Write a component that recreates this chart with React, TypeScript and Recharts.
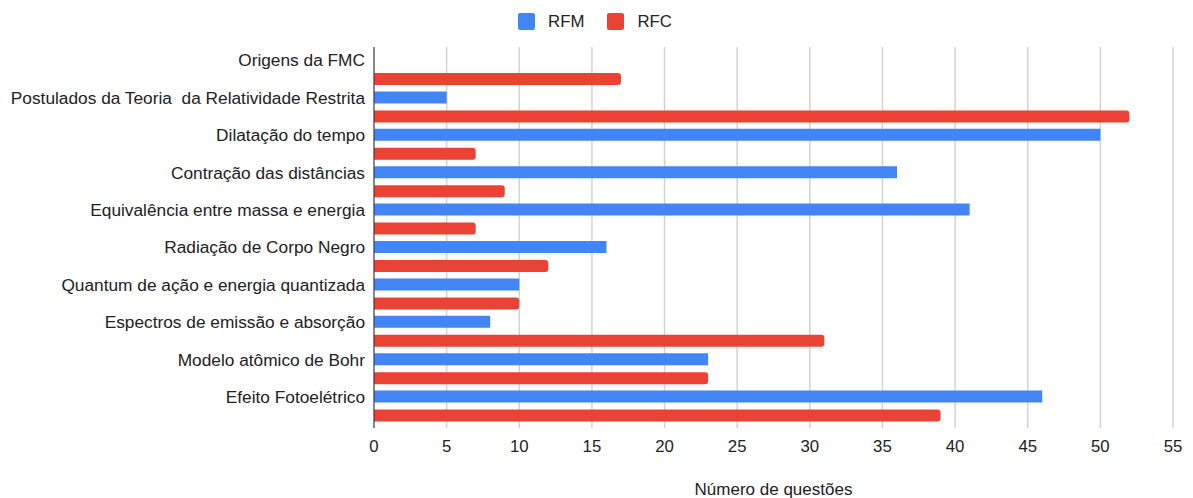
import { BarChart, Bar, XAxis, YAxis, CartesianGrid } from "recharts";

const categories = [
  "Origens da FMC",
  "Postulados da Teoria  da Relatividade Restrita",
  "Dilatação do tempo",
  "Contração das distâncias",
  "Equivalência entre massa e energia",
  "Radiação de Corpo Negro",
  "Quantum de ação e energia quantizada",
  "Espectros de emissão e absorção",
  "Modelo atômico de Bohr",
  "Efeito Fotoelétrico",
];

const rfm = [0, 5, 50, 36, 41, 16, 10, 8, 23, 46];
const rfc = [17, 52, 7, 9, 7, 12, 10, 31, 23, 39];

const xTicks = [0, 5, 10, 15, 20, 25, 30, 35, 40, 45, 50, 55];

const SERIES = [
  { key: "rfm", label: "RFM", color: "#4285F4" },
  { key: "rfc", label: "RFC", color: "#EA4335" },
] as const;

const FONT = '"Liberation Sans", Arial, sans-serif';
const TEXT = "#222222";

const data = categories.map((name, i) => ({ name, rfm: rfm[i], rfc: rfc[i] }));

// category labels sit level with the first (blue) bar of each group
function CategoryTick(props: any) {
  const { x, y, payload } = props;
  return (
    <text
      x={x}
      y={y - 9.5}
      dy="0.355em"
      textAnchor="end"
      fill={TEXT}
      fontSize={17.3}
      fontFamily={FONT}
      style={{ whiteSpace: "pre" }}
    >
      {payload.value}
    </text>
  );
}

function LegendRow() {
  return (
    <div
      style={{
        position: "absolute",
        top: 13,
        left: 0,
        width: 1193,
        display: "flex",
        justifyContent: "center",
        alignItems: "center",
        fontFamily: FONT,
        fontSize: 16.8,
        color: TEXT,
        paddingRight: 3,
        boxSizing: "border-box",
      }}
    >
      {SERIES.map((s, i) => (
        <div
          key={s.key}
          style={{ display: "flex", alignItems: "center", marginLeft: i ? 23 : 0 }}
        >
          <span
            style={{
              width: 17,
              height: 17,
              borderRadius: 2,
              background: s.color,
              display: "inline-block",
              marginRight: 13,
            }}
          />
          <span style={{ lineHeight: "17px" }}>{s.label}</span>
        </div>
      ))}
    </div>
  );
}

export default function App() {
  return (
    <div style={{ position: "relative", width: 1193, height: 498, background: "#fff" }}>
      <style>{`body{margin:0}`}</style>
      <LegendRow />
      <BarChart
        width={1193}
        height={498}
        data={data}
        layout="vertical"
        margin={{ top: 47, right: 20, bottom: 0, left: 0 }}
        barSize={12}
        barGap={7}
      >
        <CartesianGrid horizontal={false} stroke="#d3d3d3" strokeWidth={1.5} />
        <XAxis
          type="number"
          domain={[0, 55]}
          ticks={xTicks}
          interval={0}
          axisLine={false}
          tickLine={false}
          tickSize={0}
          tickMargin={12}
          height={70}
          tick={{ fill: TEXT, fontSize: 16.8, fontFamily: FONT }}
          label={{
            value: "Número de questões",
            position: "insideBottom",
            offset: 3,
            fill: TEXT,
            fontSize: 17,
            fontFamily: FONT,
          }}
        />
        <YAxis
          type="category"
          dataKey="name"
          width={374}
          interval={0}
          padding={{ top: 4, bottom: 3 }}
          axisLine={{ stroke: "#333333", strokeWidth: 1 }}
          tickLine={false}
          tickSize={0}
          tickMargin={9}
          tick={<CategoryTick />}
        />
        {SERIES.map((s) => (
          <Bar
            key={s.key}
            dataKey={s.key}
            name={s.label}
            fill={s.color}
            radius={s.key === "rfc" ? [0, 3, 3, 0] : 0}
            isAnimationActive={false}
          />
        ))}
      </BarChart>
    </div>
  );
}
